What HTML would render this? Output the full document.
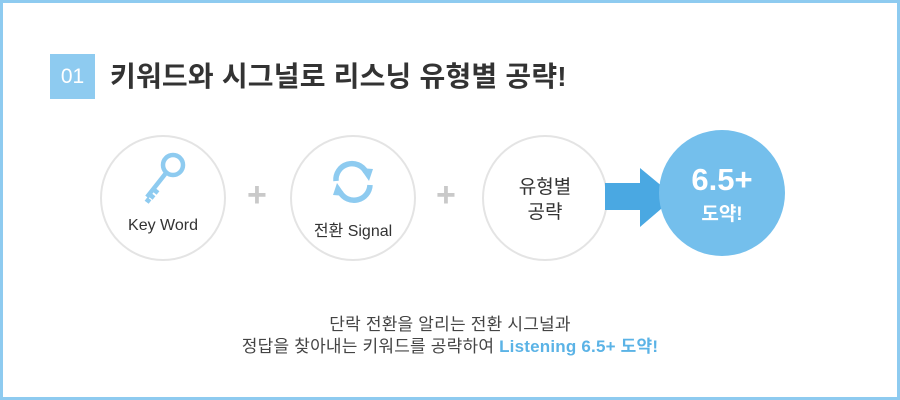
<!DOCTYPE html>
<html><head><meta charset="utf-8"><style>
body{margin:0;width:900px;height:400px;overflow:hidden;background:#fff;font-family:"Liberation Sans","Noto Sans CJK KR",sans-serif;}
.frame{position:absolute;left:0;top:0;width:894px;height:394px;border:3px solid #8ecbf0;}
.num{position:absolute;left:50px;top:54px;width:45px;height:45px;background:#8ecbf0;color:#fff;font-size:21px;line-height:45px;text-align:center;}
.title{position:absolute;left:110px;top:55px;font-size:28px;font-weight:bold;color:#333;letter-spacing:0.2px;white-space:nowrap;}
.c{position:absolute;width:122px;height:122px;border:2px solid #e4e4e4;border-radius:50%;background:#fff;}
.lab{position:absolute;width:100%;text-align:center;font-size:16px;color:#333;}
.plus{position:absolute;color:#c9c9c9;font-size:34px;font-weight:bold;}
.big{position:absolute;left:659px;top:130px;width:126px;height:126px;border-radius:50%;background:#74bfec;color:#fff;text-align:center;font-weight:bold;}
.bot{position:absolute;left:0;width:900px;text-align:center;font-size:17px;color:#444;letter-spacing:0.2px;}
</style></head><body>
<div class="frame"></div>
<div class="num">01</div>
<div class="title">키워드와 시그널로 리스닝 유형별 공략!</div>
<div class="c" style="left:100px;top:135px">
<svg style="position:absolute;left:38px;top:14px" width="50" height="56" viewBox="0 0 50 56"><circle cx="33" cy="14" r="10" fill="none" stroke="#8ecbf0" stroke-width="4.5"/><path d="M26 22 L7 46 M13 38 L18 42 M9 43 L14 47 M6 48 L10 51" stroke="#8ecbf0" stroke-width="4.5" fill="none"/></svg>
<div class="lab" style="top:80px">Key Word</div></div>
<div class="plus" style="left:247px;top:176px">+</div>
<div class="c" style="left:290px;top:135px">
<svg style="position:absolute;left:36px;top:20px" width="50" height="50" viewBox="0 0 50 50"><path d="M8 24 A16 16 0 0 1 38 15" stroke="#8ecbf0" stroke-width="5.5" fill="none"/><path d="M32 11 L45 12 L41 24 Z" fill="#8ecbf0"/><path d="M42 28 A16 16 0 0 1 12 35" stroke="#8ecbf0" stroke-width="5.5" fill="none"/><path d="M18 39 L5 38 L9 26 Z" fill="#8ecbf0"/></svg>
<div class="lab" style="top:80px">전환 Signal</div></div>
<div class="plus" style="left:436px;top:176px">+</div>
<div class="c" style="left:482px;top:135px"><div class="lab" style="top:38px;font-size:19px;line-height:25px">유형별<br>공략</div></div>
<svg style="position:absolute;left:605px;top:167px" width="72" height="62"><path d="M0 16 H35 V1 L70 30 L35 60 V43 H0 Z" fill="#4aa8e2"/></svg>
<div class="big"><div style="font-size:31px;margin-top:33px;line-height:34px">6.5+</div><div style="font-size:19px;margin-top:2px">도약!</div></div>
<div class="bot" style="top:310px">단락 전환을 알리는 전환 시그널과</div>
<div class="bot" style="top:332px">정답을 찾아내는 키워드를 공략하여 <span style="color:#5bb3e6;font-weight:bold">Listening 6.5+ 도약!</span></div>
</body></html>
